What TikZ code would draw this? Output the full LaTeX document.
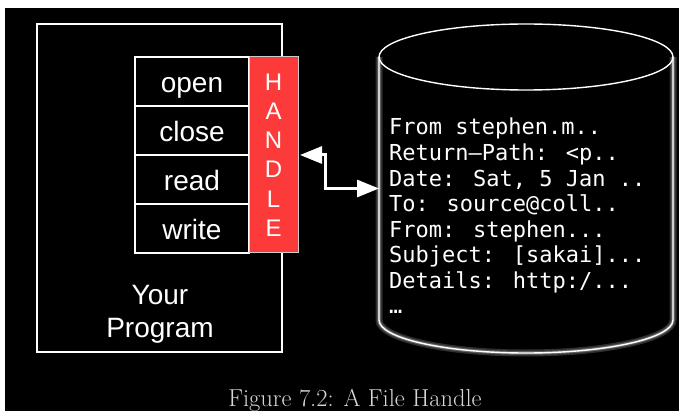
\documentclass[tikz,border=0pt]{standalone}
\usepackage{fontspec}
\newfontfamily\helv{Liberation Sans}
\newfontfamily\mono{DejaVu Sans Mono}
\usetikzlibrary{positioning,arrows.meta}

\definecolor{handlered}{RGB}{252,58,58}
\definecolor{captiongray}{RGB}{215,215,215}

\tikzset{
    fnbox/.style={draw=white, line width=1.4pt, minimum width=114pt, minimum height=49pt,
        inner sep=0pt, outer sep=0pt, text=white, text height=22pt, text depth=0pt,
        font=\helv\fontsize{28}{32}\selectfont},
    handlebox/.style={fill=handlered, draw=white!80!black, line width=1pt, minimum width=49pt,
        minimum height=196pt, inner sep=0pt, outer sep=0pt, text=white, align=center,
        font=\helv\fontsize{24}{29.2}\selectfont},
    mailline/.style={anchor=base west, inner sep=0pt, text=white, font=\mono\fontsize{22}{25.6}\selectfont},
    glow/.style={white, line width=#1, opacity=0.18}
}

\begin{document}
\begin{tikzpicture}[x=1pt, y=-1pt]
    \useasboundingbox (0,0) rectangle (679,411);
    \fill[black] (5,8) rectangle (679,411);

    % the program
    \node[draw=white, line width=1.4pt, minimum width=245pt, minimum height=328pt, inner sep=0pt] (prog) at (159.5,188) {};
    \node[text=white, align=center, font=\helv\fontsize{28}{33}\selectfont] (progname) at (160,314.5) {Your\\Program};

    \node[fnbox] (open) at (192,81.5) {open};
    \node[fnbox, below=0pt of open] (close) {close};
    \node[fnbox, below=0pt of close] (read) {read};
    \node[fnbox, below=0pt of read] (write) {write};
    \node[handlebox, anchor=north west] (handle) at (open.north east) {H\\A\\N\\D\\L\\E};

    % the file
    \node[minimum width=294pt, minimum height=263pt, inner sep=0pt, outer sep=0pt] (db) at (526,188.5) {};
    \foreach \w in {7pt, 4pt, 2.5pt}
        \draw[glow=\w] (db.north west) -- (db.south west)
            .. controls +(0,18.2) and +(-81.2,0) .. ++(147,33)
            .. controls +(81.2,0) and +(0,18.2) .. (db.south east) -- (db.north east);
    \draw[white, line width=1.4pt] (db.north west) -- (db.south west)
        .. controls +(0,18.2) and +(-81.2,0) .. ++(147,33)
        .. controls +(81.2,0) and +(0,18.2) .. (db.south east) -- (db.north east);
    \draw[white, line width=1.4pt] (db.north) ellipse [x radius=147, y radius=33];

    \node[mailline] (line1) at (389,135) {From stephen.m..};
    \node[mailline] (line2) at (389,160.56) {Return–Path: <p..};
    \node[mailline] (line3) at (389,186.12) {Date: Sat, 5 Jan ..};
    \node[mailline] (line4) at (389,211.68) {To: source@coll..};
    \node[mailline] (line5) at (389,237.24) {From: stephen...};
    \node[mailline] (line6) at (389,262.8) {Subject: [sakai]...};
    \node[mailline] (line7) at (389,288.36) {Details: http:/...};
    \node[mailline] (line8) at (389,313.92) {…};

    \draw[<->, white, line width=3pt, >={Triangle[length=22pt, width=17pt]}, shorten <=2pt]
        (handle.east) -- ++(27,0) |- (db.west);

    \node[text=captiongray, anchor=base, inner sep=0pt, font=\fontsize{24.5}{28}\selectfont] (caption) at (355,406) {Figure 7.2: A File Handle};
\end{tikzpicture}
\end{document}
